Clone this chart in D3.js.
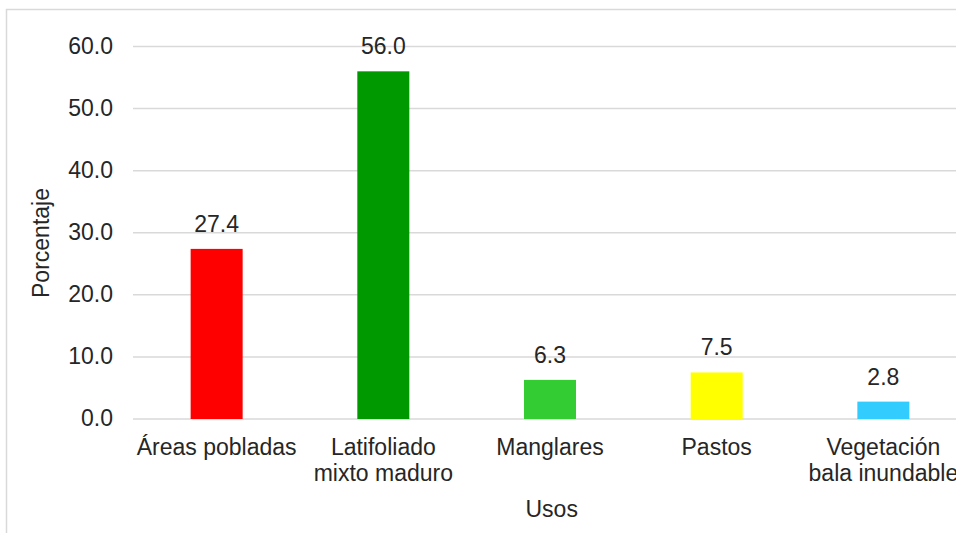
<!DOCTYPE html>
<html><head><meta charset="utf-8">
<script src="https://cdn.jsdelivr.net/npm/d3@7/dist/d3.min.js"></script>
<style>
html,body{margin:0;padding:0;background:#fff;overflow:hidden;}
text{font-family:"Liberation Sans",Arial,sans-serif;fill:#262626;}
</style></head>
<body>
<svg id="chart" width="956" height="533"></svg>
<script>
const categories = ["Áreas pobladas", "Latifoliado\nmixto maduro", "Manglares", "Pastos", "Vegetación\nbala inundable"];
const values = [27.4, 56.0, 6.3, 7.5, 2.8];
const colors = ["#ff0000", "#009900", "#33cc33", "#ffff00", "#33ccff"];
const yTicks = [0, 10, 20, 30, 40, 50, 60];
const yTitle = "Porcentaje";
const xTitle = "Usos";

const svg = d3.select("#chart");
const fs = 23;

// outer border
svg.append("rect").attr("x", 6.5).attr("y", 9.5).attr("width", 1000).attr("height", 600)
  .attr("fill", "none").attr("stroke", "#d9d9d9").attr("stroke-width", 1.5);

const x = d3.scaleBand().domain(categories).range([133.3, 966.7]).paddingInner(0.688).paddingOuter(0.344);
const y = d3.scaleLinear().domain([0, 60]).range([419, 46.5]);

// gridlines
svg.append("g").selectAll("line").data(yTicks).join("line")
  .attr("x1", 133).attr("x2", 966)
  .attr("y1", d => y(d)).attr("y2", d => y(d))
  .attr("stroke", "#d9d9d9").attr("stroke-width", 1.5);

// y axis
const yAxis = svg.append("g").attr("transform", "translate(133,0)")
  .call(d3.axisLeft(y).tickValues(yTicks).tickFormat(d3.format(".1f")).tickSize(0).tickPadding(20));
yAxis.select(".domain").remove();
yAxis.selectAll("text").attr("font-size", fs).attr("font-family", "Liberation Sans, Arial, sans-serif").attr("fill", "#262626").attr("dy", "0.3em");

// bars
svg.append("g").selectAll("rect").data(values).join("rect")
  .attr("x", (d, i) => x(categories[i]))
  .attr("width", x.bandwidth())
  .attr("y", d => y(d))
  .attr("height", d => y(0) - y(d))
  .attr("fill", (d, i) => colors[i]);

// value labels
svg.append("g").selectAll("text").data(values).join("text")
  .attr("x", (d, i) => x(categories[i]) + x.bandwidth() / 2)
  .attr("y", d => y(d) - 17)
  .attr("text-anchor", "middle").attr("font-size", fs)
  .text(d => d.toFixed(1));

// x axis
const xAxis = svg.append("g").attr("transform", "translate(0,419)")
  .call(d3.axisBottom(x).tickSize(0));
xAxis.select(".domain").remove();
xAxis.selectAll("text").each(function(d) {
  const t = d3.select(this);
  t.text(null).attr("y", 36).attr("dy", null).attr("font-size", fs)
   .attr("font-family", "Liberation Sans, Arial, sans-serif").attr("fill", "#262626");
  d.split("\n").forEach((line, i) => {
    t.append("tspan").attr("x", 0).attr("dy", i === 0 ? 0 : 25.7).text(line);
  });
});

// axis titles
svg.append("text").attr("transform", "translate(49,243) rotate(-90)")
  .attr("text-anchor", "middle").attr("font-size", fs).text(yTitle);
svg.append("text").attr("x", 551.7).attr("y", 516.7)
  .attr("text-anchor", "middle").attr("font-size", fs).text(xTitle);
</script>
</body></html>
